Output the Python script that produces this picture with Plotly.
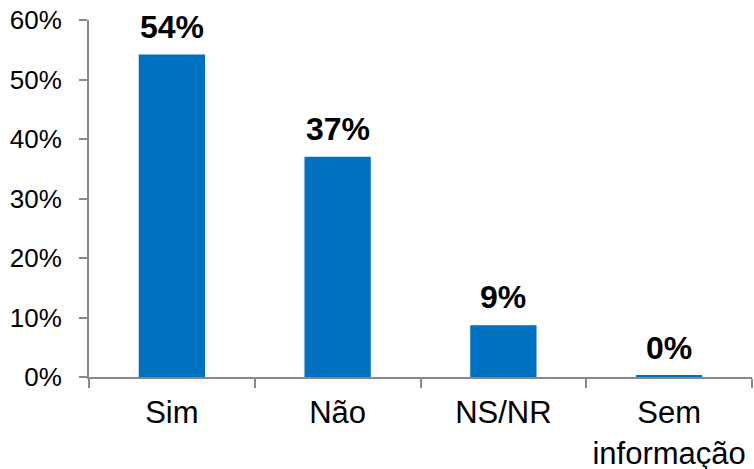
import plotly.graph_objects as go

categories = ["Sim", "Não", "NS/NR", "Sem<br>informação"]
values = [54.2, 37.0, 8.7, 0.2]
y_ticks = [0, 10, 20, 30, 40, 50, 60]
y_tick_labels = [f"{v}%" for v in y_ticks]

FONT = "Liberation Sans, Arial, sans-serif"

fig = go.Figure(go.Bar(
    x=categories,
    y=values,
    width=0.4,
    marker=dict(color="#0070C0", line=dict(width=0)),
    hoverinfo="x+y",
))

for c, v in zip(categories, values):
    fig.add_annotation(
        x=c, y=v, text=f"<b>{v:.0f}%</b>", showarrow=False,
        yanchor="middle", yshift=28,
        font=dict(family=FONT, size=32, color="#000000"),
    )

fig.update_layout(
    width=754, height=469,
    margin=dict(l=89, r=2, t=20, b=92),
    paper_bgcolor="white", plot_bgcolor="white",
    font=dict(family=FONT, color="#000000"),
    showlegend=False,
)
fig.update_xaxes(
    showline=True, linecolor="#898989", linewidth=2,
    ticks="outside", tickson="boundaries", ticklen=9, tickcolor="#898989", tickwidth=2,
    tickfont=dict(size=31), showgrid=False, automargin=False,
    ticklabelstandoff=7, ticklabeloverflow="allow",
)
fig.update_yaxes(
    range=[0, 60], tickvals=y_ticks, ticktext=y_tick_labels,
    showline=True, linecolor="#898989", linewidth=2,
    ticks="outside", ticklen=8, tickcolor="#898989", tickwidth=2,
    tickfont=dict(size=26), showgrid=False, zeroline=False, automargin=False,
    ticklabelstandoff=12, ticklabeloverflow="allow",
)

fig.write_html(
    "out.html",
    config={"displayModeBar": False},
    post_script="document.body.style.margin='0';document.body.style.overflow='hidden';",
)
